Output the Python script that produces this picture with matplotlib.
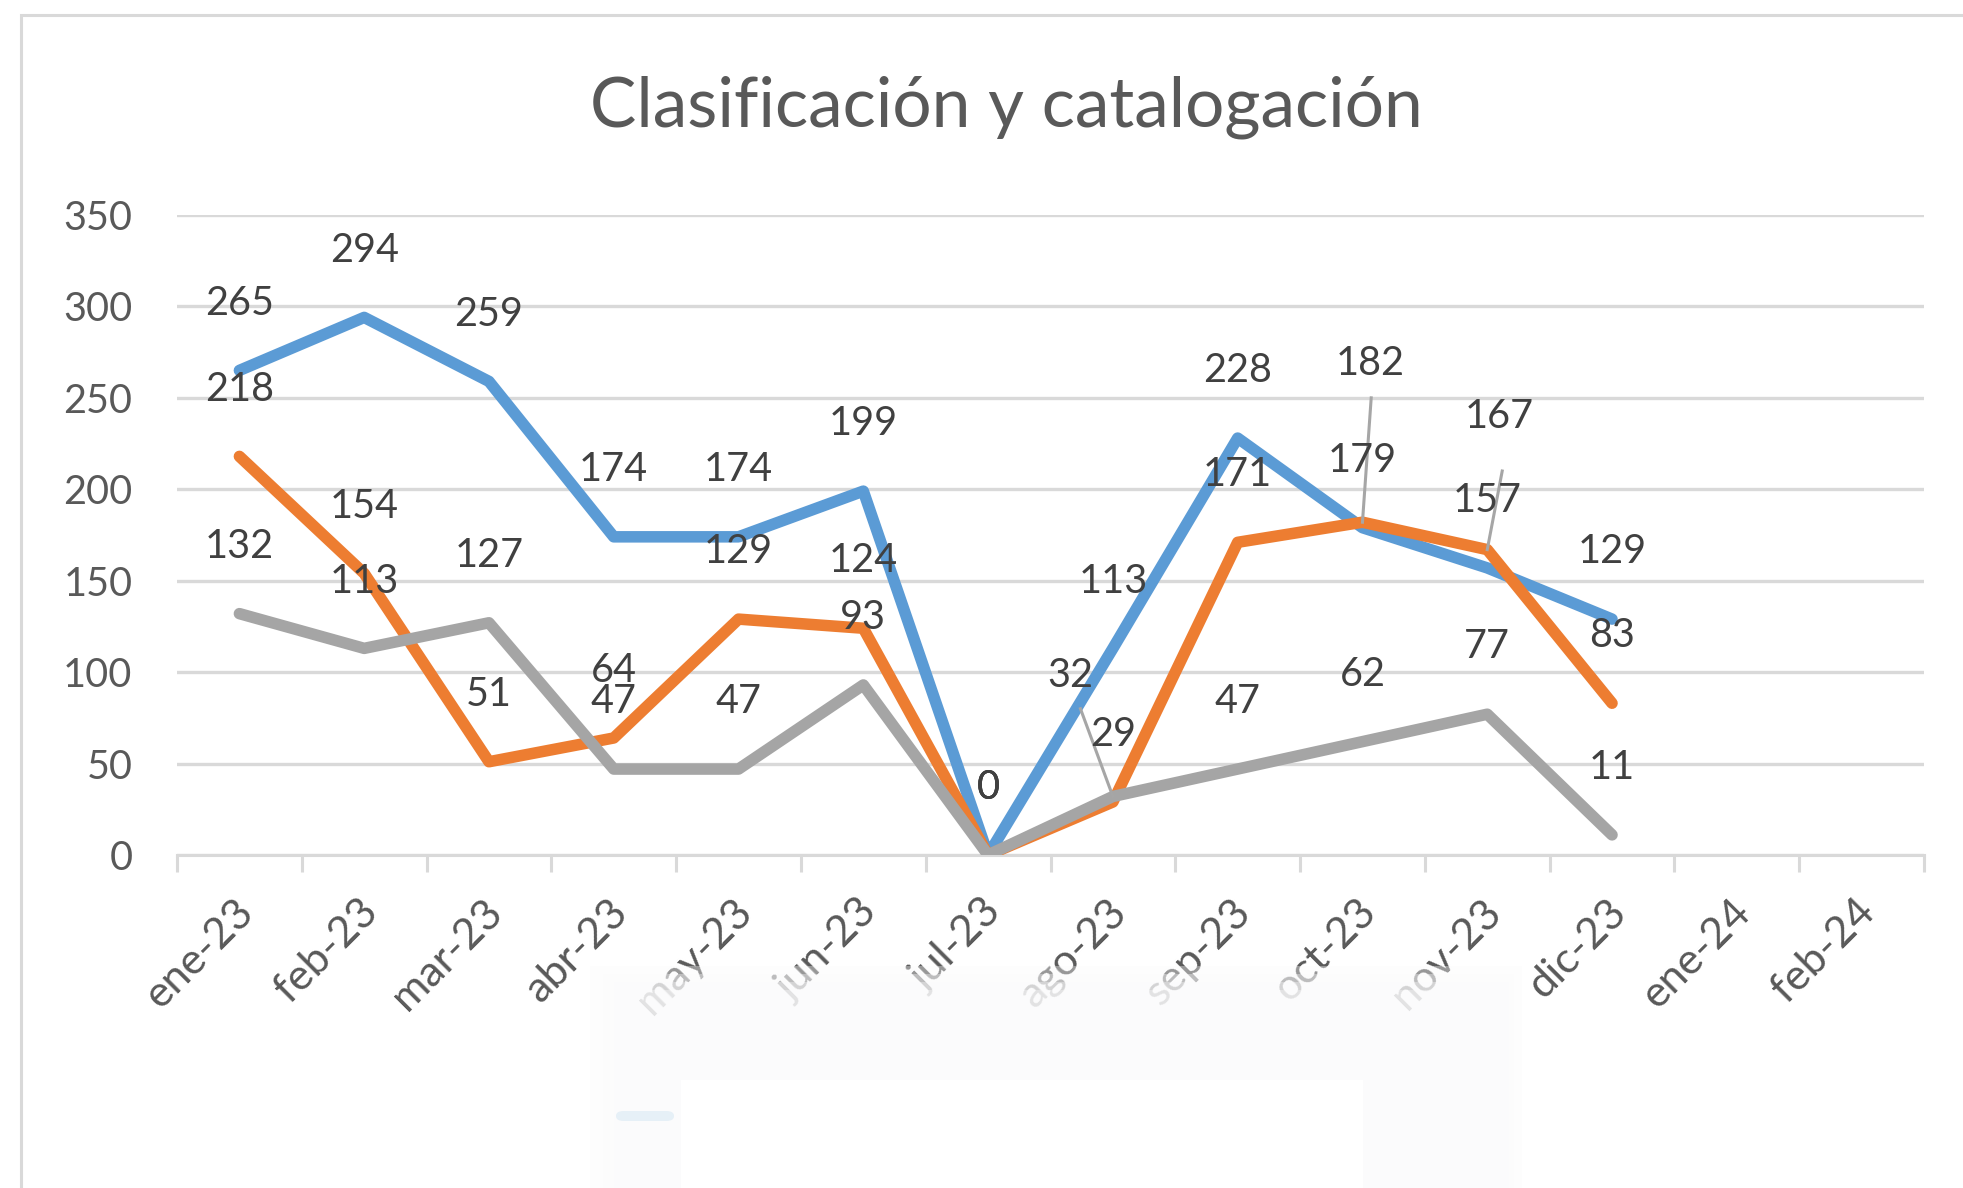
import matplotlib
matplotlib.use("Agg")
import matplotlib.pyplot as plt
from matplotlib.patches import Rectangle, FancyBboxPatch
from matplotlib.transforms import ScaledTranslation
import numpy as np

categories = ["ene-23", "feb-23", "mar-23", "abr-23", "may-23", "jun-23", "jul-23",
              "ago-23", "sep-23", "oct-23", "nov-23", "dic-23", "ene-24", "feb-24"]
serie_azul = [265, 294, 259, 174, 174, 199, 0, 113, 228, 179, 157, 129]
serie_naranja = [218, 154, 51, 64, 129, 124, 0, 29, 171, 182, 167, 83]
serie_gris = [132, 113, 127, 47, 47, 93, 0, 32, 47, 62, 77, 11]
yticks = [0, 50, 100, 150, 200, 250, 300, 350]
title = "Clasificación y catalogación"

FONT = "Lato"
plt.rcParams["font.family"] = [FONT, "DejaVu Sans"]

W, H, DPI = 1963, 1188, 100
fig = plt.figure(figsize=(W / DPI, H / DPI), dpi=DPI)
fig.patch.set_facecolor("white")

# outer chart border
fig.add_artist(Rectangle((21 / W, -0.1), 1.2, 1 - 15 / H + 0.1, transform=fig.transFigure,
                         fill=False, edgecolor="#D9D9D9", lw=2.2, zorder=0))

ax = fig.add_axes([177 / W, 1 - 855 / H, (1924 - 177) / W, (855 - 215) / H])
ax.set_xlim(-0.5, len(categories) - 0.5)
ax.set_ylim(0, 350)
for s in ["top", "right", "left"]:
    ax.spines[s].set_visible(False)
ax.spines["bottom"].set_color("#D9D9D9")
ax.spines["bottom"].set_linewidth(2.2)
ax.set_yticks(yticks)
ax.yaxis.grid(True, color="#D9D9D9", lw=2.4)
ax.set_axisbelow(True)
ax.tick_params(axis="y", length=0, pad=32, labelsize=28.5, labelcolor="#595959")

ax.set_xticks(np.arange(len(categories)))
ax.set_xticklabels(categories, rotation=45, ha="right", va="top", rotation_mode="anchor")
ax.set_xticks(np.arange(len(categories) + 1) - 0.5, minor=True)
ax.tick_params(axis="x", which="major", length=0, pad=27, labelsize=31, labelcolor="#595959")
ax.tick_params(axis="x", which="minor", length=12, width=2.2, color="#D9D9D9")
shift = ScaledTranslation(-6 / DPI, 0, fig.dpi_scale_trans)
for lab in ax.get_xticklabels():
    lab.set_transform(lab.get_transform() + shift)

colors = {"azul": "#5B9BD5", "naranja": "#ED7D31", "gris": "#A5A5A5"}
series = [("azul", serie_azul), ("naranja", serie_naranja), ("gris", serie_gris)]
x = np.arange(len(serie_azul))
for z, (name, vals) in enumerate(series):
    ax.plot(x, vals, color=colors[name], lw=8.3, solid_joinstyle="round",
            solid_capstyle="round", zorder=3 + z)

# moved labels: (series, index) -> (label x, label y, leader start x, y)
moved = {
    ("gris", 7): (6.66, 98, 6.74, 80),
    ("naranja", 9): (9.06, 269, 9.07, 250),
    ("naranja", 10): (10.10, 240, 10.12, 210),
}
for name, vals in series:
    for i, v in enumerate(vals):
        key = (name, i)
        if key in moved:
            lx, ly, sx, sy = moved[key]
            ax.plot([sx, i], [sy, v], color="#A6A6A6", lw=2.2, zorder=7)
            ax.text(lx, ly, str(v), ha="center", va="center", fontsize=28.5,
                    color="#404040", zorder=8)
        else:
            ax.annotate(str(v), (i, v), xytext=(0, 48.5), textcoords="offset points",
                        ha="center", va="center", fontsize=28.5, color="#404040", zorder=8)

fig.text(1006 / W, 1 - 107 / H, title, ha="center", va="center", fontsize=50,
         color="#595959")

# faint, soft-edged overlay that hides the legend area
def fig_rect(x0, y0, x1, y1, **kw):
    fig.add_artist(Rectangle((x0 / W, 1 - y1 / H), (x1 - x0) / W, (y1 - y0) / H,
                             transform=fig.transFigure, edgecolor="none", **kw))

steps = [(590, 966, 1522), (603, 974, 1514), (614, 982, 1509), (624, 990, 1504)]
for k, (x0, y0, x1) in enumerate(steps):
    fig_rect(x0, y0, x1, H, facecolor="#FBFBFC", alpha=0.38, zorder=20 + k)
fig_rect(681, 1080, 1363, H, facecolor="white", zorder=30)
fig.add_artist(FancyBboxPatch((616 / W, 1 - 1121 / H), 58 / W, 10 / H,
                              boxstyle="round,pad=0,rounding_size=0.004",
                              transform=fig.transFigure, facecolor="#E6F0F7",
                              edgecolor="none", zorder=31))

fig.savefig("out.png", dpi=DPI)
